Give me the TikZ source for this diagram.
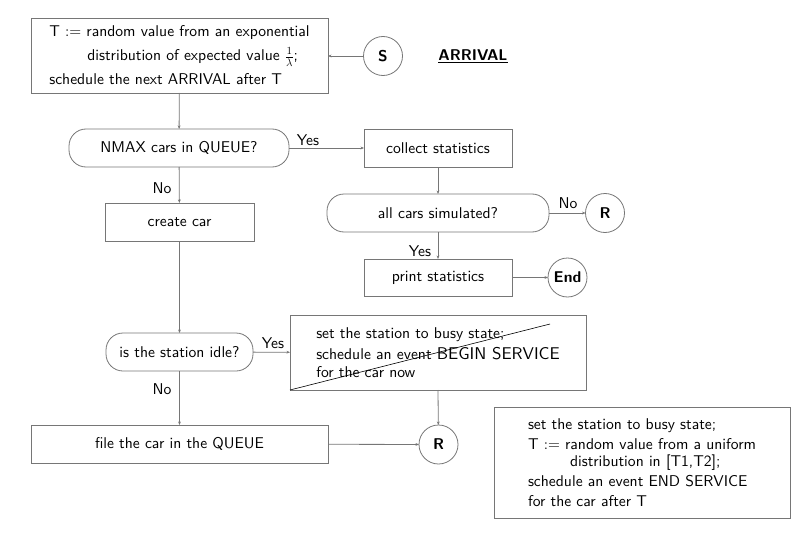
\documentclass[tikz,border=0pt]{standalone}
\usepackage{fix-cm}
\usepackage{fontspec}
\setsansfont{lmsans10-regular}[Extension=.otf, BoldFont=lmsans10-bold]
\usetikzlibrary{arrows.meta}
\definecolor{linegray}{RGB}{118,118,118}
\tikzset{
  base/.style={font=\fontsize{15.6}{24}\selectfont\sffamily, inner sep=0pt, outer sep=0pt},
  box/.style={base, draw=linegray, line width=0.8pt, rectangle, align=left},
  rbox/.style={box, rounded corners=17pt},
  conn/.style={base, draw=linegray, line width=0.8pt, circle, font=\fontsize{15.6}{18}\selectfont\sffamily\bfseries, minimum size=39pt},
  lbl/.style={base},
  flow/.style={draw=linegray, line width=0.8pt, -{Stealth[length=3.5pt,width=2.8pt]}}
}
\begin{document}
\begin{tikzpicture}[x=1pt,y=-1pt]
\useasboundingbox (0,0) rectangle (806,543);
\node[box, minimum width=297pt, minimum height=75pt] (top) at (179.5,55.5)
  {T $:=$ random value from an exponential\\
   \hspace*{38pt}distribution of expected value $\frac{1}{\lambda}$;\\
   schedule the next ARRIVAL after T};
\node[conn] (S) at (383,56) {S};
\node[lbl, font=\fontsize{15.6}{18}\selectfont\sffamily\bfseries] (arr) at (473,56) {\underline{ARRIVAL}};
\node[rbox, minimum width=220pt, minimum height=38pt] (nmax) at (179,148) {NMAX cars in QUEUE?};
\node[box, minimum width=148pt, minimum height=38pt] (coll) at (438,148) {collect statistics};
\node[rbox, minimum width=222pt, minimum height=38pt] (allc) at (438,213) {all cars simulated?};
\node[conn] (R1) at (605,213) {R};
\node[box, minimum width=148pt, minimum height=37pt] (prnt) at (438,277.5) {print statistics};
\node[conn] (End) at (567.5,277.5) {End};
\node[box, minimum width=149pt, minimum height=38pt] (create) at (179.5,222) {create car};
\node[rbox, minimum width=147pt, minimum height=38pt] (idle) at (179.5,352) {is the station idle?};
\node[box, minimum width=296pt, minimum height=75pt, font=\fontsize{15.6}{21}\selectfont\sffamily] (busy) at (438,352.5)
  {set the station to busy state;\\
   schedule an event {\fontsize{17}{21}\selectfont BEGIN SERVICE}\\[-3pt]
   for the car now};
\node[conn] (R2) at (438.5,444.5) {R};
\node[box, minimum width=297pt, minimum height=38pt] (file) at (179.5,444) {file the car in the QUEUE};
\node[box, minimum width=296pt, minimum height=111pt, font=\fontsize{15.6}{20}\selectfont\sffamily] (rb) at (642,462.5)
  {set the station to busy state;\\
   T $:=$ random value from a uniform\\[-3pt]
   \hspace*{42pt}distribution in [T1,T2];\\
   schedule an event END SERVICE\\
   for the car after T};
\coordinate (strikeend) at (550,324);
\draw[black, line width=0.6pt] (busy.south west) -- (strikeend);
% labels
\node[lbl] (y1) at (308,140) {Yes};
\node[lbl] (n1) at (162,188) {No};
\node[lbl] (n2) at (568,203) {No};
\node[lbl] (y2) at (420,251) {Yes};
\node[lbl] (y3) at (273,343) {Yes};
\node[lbl] (n3) at (162,389) {No};
% connectors
\draw[flow] (S) -- (top.east |- S);
\draw[flow] (top) -- (nmax);
\draw[flow] (nmax) -- (coll);
\draw[flow] (coll) -- (allc);
\draw[flow] (allc) -- (R1);
\draw[flow] (allc) -- (prnt);
\draw[flow] (prnt) -- (End);
\draw[flow] (nmax) -- (create);
\draw[flow] (create) -- (idle);
\draw[flow] (idle) -- (busy);
\draw[flow] (busy.south) -- (R2);
\draw[flow] (idle) -- (file);
\draw[flow] (file) -- (R2);
\end{tikzpicture}
\end{document}
